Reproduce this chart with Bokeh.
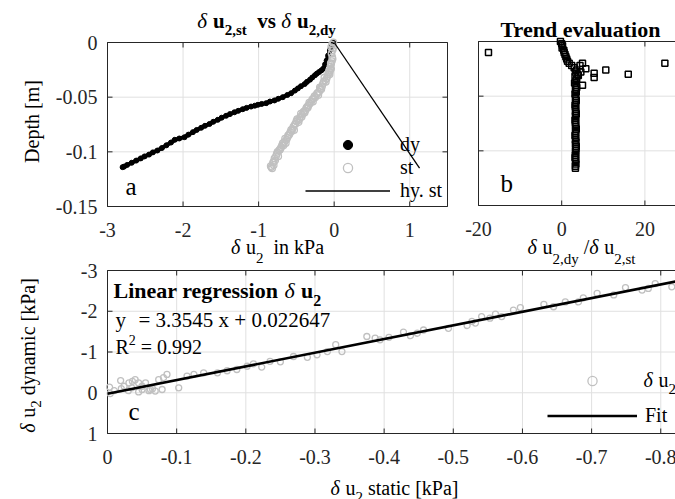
import math
from bokeh.plotting import figure
from bokeh.models import Range1d, Label, Legend, LegendItem
from bokeh.embed import file_html
from bokeh.resources import INLINE

FONT = "Liberation Serif"
AX = "#262626"
GRID = "#e0e0e0"
GREY = "#c0c0c0"
W, H = 675, 499

# ---------------- data ----------------
a_xticks = [-3, -2, -1, 0, 1]
a_yticks = [-0.15, -0.1, -0.05, 0]
b_xticks = [-20, 0, 20]
c_xticks = [0, -0.1, -0.2, -0.3, -0.4, -0.5, -0.6, -0.7, -0.8]
c_yticks = [1, 0, -1, -2, -3]

# panel a : dynamic pore pressure change vs depth
dy_u = [-0.01, -0.03, -0.056, -0.08, -0.10, -0.12, -0.145, -0.17, -0.20, -0.23, -0.255, -0.29,
        -0.32, -0.36, -0.39, -0.44, -0.48, -0.52, -0.57, -0.62, -0.68, -0.74, -0.79, -0.85,
        -0.90, -0.96, -1.01, -1.05, -1.10, -1.16, -1.21, -1.27, -1.32, -1.38, -1.43, -1.49,
        -1.54, -1.60, -1.65, -1.71, -1.76, -1.82, -1.87, -1.93, -1.98, -2.05, -2.11, -2.16,
        -2.22, -2.28, -2.34, -2.40, -2.45, -2.51, -2.56, -2.62, -2.68, -2.74, -2.80, -2.78]
dy_depth = [0.000, -0.003, -0.007, -0.012, -0.0165, -0.020, -0.024, -0.0255, -0.027, -0.0285, -0.030, -0.032,
            -0.034, -0.036, -0.038, -0.040, -0.042, -0.044, -0.0464, -0.048, -0.050, -0.0515, -0.053, -0.054,
            -0.0555, -0.0562, -0.057, -0.0578, -0.0586, -0.0598, -0.061, -0.0625, -0.0638, -0.0655, -0.067, -0.0688,
            -0.0707, -0.0725, -0.0745, -0.0762, -0.078, -0.080, -0.082, -0.0843, -0.0866, -0.0878, -0.089, -0.0915,
            -0.094, -0.0965, -0.0988, -0.1005, -0.1025, -0.1042, -0.106, -0.108, -0.110, -0.112, -0.114, -0.1135]
# panel a : static pore pressure change vs depth
st_u = [-0.01, -0.03, -0.04, -0.02, -0.035, -0.025, -0.03, -0.04, -0.05, -0.04, -0.06, -0.09,
        -0.08, -0.12, -0.10, -0.15, -0.18, -0.20, -0.23, -0.25, -0.27, -0.30, -0.32, -0.34,
        -0.36, -0.38, -0.40, -0.42, -0.45, -0.48, -0.50, -0.52, -0.55, -0.57, -0.59, -0.62,
        -0.60, -0.66, -0.68, -0.70, -0.73, -0.71, -0.76, -0.79, -0.77, -0.81, -0.83, -0.80,
        -0.015, -0.05, -0.06, -0.11, -0.14, -0.21, -0.28, -0.35, -0.43, -0.47, -0.53, -0.64,
        -0.74, -0.82, -0.67, -0.56, -0.39, -0.17,
        -0.02, -0.045, -0.07, -0.13, -0.16, -0.19, -0.22, -0.26, -0.29, -0.33, -0.37, -0.41,
        -0.44, -0.46, -0.49, -0.51, -0.54, -0.58, -0.61, -0.63, -0.65, -0.69, -0.72, -0.75,
        -0.78, -0.80, -0.84]
st_depth = [0.000, -0.002, -0.0043, -0.007, -0.010, -0.0134, -0.017, -0.020, -0.022, -0.024, -0.027, -0.031,
            -0.029, -0.0348, -0.033, -0.038, -0.042, -0.045, -0.047, -0.050, -0.051, -0.054, -0.056, -0.0576,
            -0.059, -0.062, -0.063, -0.066, -0.068, -0.0714, -0.072, -0.075, -0.079, -0.080, -0.0835, -0.087,
            -0.085, -0.091, -0.092, -0.0957, -0.099, -0.097, -0.102, -0.106, -0.104, -0.110, -0.114, -0.112,
            -0.005, -0.025, -0.029, -0.036, -0.036, -0.048, -0.054, -0.060, -0.068, -0.073, -0.080, -0.092,
            -0.104, -0.115, -0.094, -0.081, -0.064, -0.043,
            -0.015, -0.019, -0.026, -0.032, -0.040, -0.041, -0.046, -0.049, -0.052, -0.055, -0.060, -0.064,
            -0.065, -0.070, -0.070, -0.074, -0.077, -0.082, -0.085, -0.089, -0.088, -0.094, -0.098, -0.100,
            -0.108, -0.109, -0.113]
# hydrostatic line
hy_u = [0.0, 1.13]
hy_depth = [0.0, -0.115]

# panel b : ratio dy/st vs depth
b_ratio = [-0.3, 0.0, 0.2, 0.1, 0.5, 0.6, 0.8, 1.0, 1.2, 1.4, 1.8, 2.4, 3.0, 3.6, 3.3, 3.9, 3.2, 3.6,
           3.4, 3.1, 5.0, 5.8, 4.6, 7.8, 7.8, 10.6, 16.0, 24.8, -17.6, 5.0, 4.4, 4.0,
           3.4, 3.6, 3.3, 3.5, 3.2, 3.4, 3.3, 3.5, 3.4, 3.2, 3.3, 3.4, 3.3, 3.5, 3.3, 3.4,
           3.2, 3.3, 3.4, 3.3, 3.5, 3.4, 3.3, 3.2, 3.4, 3.3, 3.4, 3.3, 3.5, 3.4, 3.3, 3.4,
           3.3, 3.2, 3.4, 3.3, 3.4, 3.3, 3.3]
b_depth = [0.000, -0.002, -0.004, -0.006, -0.008, -0.010, -0.012, -0.014, -0.016, -0.018, -0.020, -0.022,
           -0.024, -0.026, -0.028, -0.030, -0.032, -0.034, -0.036, -0.038, -0.020, -0.025, -0.028, -0.029,
           -0.033, -0.026, -0.030, -0.020, -0.010, -0.040, -0.022, -0.031,
           -0.040, -0.042, -0.044, -0.046, -0.048, -0.050, -0.052, -0.054, -0.056, -0.058, -0.060, -0.062,
           -0.064, -0.066, -0.068, -0.070, -0.072, -0.074, -0.076, -0.078, -0.080, -0.082, -0.084, -0.086,
           -0.088, -0.090, -0.092, -0.094, -0.096, -0.098, -0.100, -0.102, -0.104, -0.106, -0.108, -0.110,
           -0.112, -0.114, -0.116]

# panel c : static vs dynamic
c_st = [-0.003, -0.004, -0.019, -0.024, -0.031, -0.036, -0.040, -0.045, -0.050, -0.055, -0.062, -0.069,
        -0.074, -0.079, -0.081, -0.086, -0.103, -0.115, -0.125, -0.139, -0.159, -0.173, -0.187, -0.202,
        -0.211, -0.223, -0.235, -0.250, -0.269, -0.289, -0.303, -0.318, -0.330, -0.339, -0.375, -0.387,
        -0.394, -0.407, -0.428, -0.438, -0.448, -0.457, -0.493, -0.520, -0.527, -0.532, -0.541, -0.553,
        -0.561, -0.570, -0.587, -0.597, -0.631, -0.645, -0.662, -0.681, -0.688, -0.708, -0.732, -0.749,
        -0.773, -0.782, -0.792, -0.816, -0.010, -0.030, -0.045, -0.060, -0.065, -0.020, -0.050, -0.035]
c_dy = [-0.14, 0.02, -0.30, -0.16, -0.24, -0.28, -0.32, -0.24, -0.16, -0.24, -0.08, -0.04,
        -0.32, -0.08, -0.37, -0.45, -0.12, -0.41, -0.45, -0.49, -0.49, -0.54, -0.57, -0.65,
        -0.71, -0.63, -0.77, -0.76, -0.89, -0.87, -0.93, -1.01, -1.18, -1.01, -1.38, -1.34,
        -1.30, -1.36, -1.49, -1.40, -1.46, -1.54, -1.58, -1.65, -1.75, -1.71, -1.87, -1.83,
        -1.93, -1.87, -2.03, -2.09, -2.17, -2.11, -2.23, -2.23, -2.33, -2.44, -2.40, -2.58,
        -2.52, -2.56, -2.68, -2.60, -0.05, -0.05, -0.02, -0.05, -0.10, -0.10, -0.08, -0.12]
fit_x = [0.0, -0.83]
fit_y = [0.023, -2.76]

# ---------------- layout (pixel boxes: left, right, top, bottom) ----------------
BOX_A = (107, 447, 42, 206)
BOX_B = (478, 686, 41, 205)
BOX_C = (107, 681, 270, 433)
LIM_A = ((-3, 1.5), (0, -0.15))      # (x left, x right), (y top, y bottom)
LIM_B = ((-20, 30), (0, -0.15))
LIM_C = ((0, -0.83), (-3, 1))


def x_range_for(box, lim):
    L, R = box[0], box[1]
    vl, vr = lim
    k = (vr - vl) / (R - L)
    return Range1d(vl - L * k, vl + (W - L) * k)


def y_range_for(box, lim):
    T, Bt = box[2], box[3]
    vt, vb = lim
    k = (vb - vt) / (Bt - T)
    return Range1d(vt + (H - T) * k, vt - T * k)


p = figure(width=W, height=H, x_range=Range1d(0, W), y_range=Range1d(H, 0),
           x_axis_type=None, y_axis_type=None, min_border=0,
           output_backend="svg", toolbar_location=None,
           background_fill_color="white", border_fill_color="white")
p.outline_line_color = None
p.extra_x_ranges = {"ax": x_range_for(BOX_A, LIM_A[0]), "bx": x_range_for(BOX_B, LIM_B[0]),
                    "cx": x_range_for(BOX_C, LIM_C[0])}
p.extra_y_ranges = {"ay": y_range_for(BOX_A, LIM_A[1]), "by": y_range_for(BOX_B, LIM_B[1]),
                    "cy": y_range_for(BOX_C, LIM_C[1])}

# ---------------- text helpers ----------------
W_REG = {' ': .25, ',': .25, '.': .25, '/': .278, '=': .564, '+': .564, '-': .333, '[': .333, ']': .333,
         'a': .444, 'c': .444, 'd': .5, 'e': .444, 'h': .5, 'i': .278, 'k': .5, 'm': .778, 'n': .5,
         'p': .5, 's': .389, 't': .278, 'u': .5, 'v': .5, 'x': .5, 'y': .5, 'D': .722, 'P': .556,
         'R': .667, 'F': .556, 'δ': .5}
W_BOLD = {' ': .25, ',': .25, 'u': .556, 's': .389, 't': .333, 'v': .5, 'd': .556, 'y': .5, 'L': .667,
          'i': .278, 'n': .556, 'e': .444, 'a': .5, 'r': .444, 'g': .5, 'o': .5, 'T': .667, 'l': .278}
for _d in '0123456789':
    W_REG[_d] = .5
    W_BOLD[_d] = .5

BASE_K = 0.3   # correction between requested and drawn alphabetic baseline


def tw(s, size, style):
    table = W_BOLD if style == "bold" else W_REG
    return sum(table.get(ch, 0.5) for ch in s) * size


def label(x, y, text, size=20, style="normal", align="left", baseline="alphabetic", angle=0.0,
          color="black", xr="default", yr="default"):
    p.add_layout(Label(x=x, y=y, text=text, angle=angle, x_range_name=xr, y_range_name=yr,
                       text_font=FONT, text_font_size=f"{size}px", text_font_style=style,
                       text_color=color, text_baseline=baseline, text_align=align))


def put(X, Y, parts, align="left", vertical=False):
    widths = [tw(t, sz, st) for t, sz, st, sh in parts]
    total = sum(widths)
    if not vertical:
        start = X - total / 2 if align == "center" else X
    else:
        start = Y + total / 2 if align == "center" else Y
    adv = 0.0
    for (t, sz, st, sh), w in zip(parts, widths):
        lead = tw(t[:len(t) - len(t.lstrip())], sz, st)
        s = t.strip()
        if s:
            off = sh - BASE_K * sz
            if not vertical:
                label(start + adv + lead, Y + off, s, sz, st)
            else:
                label(X + off, start - adv - lead, s, sz, st, angle=math.pi / 2)
        adv += w


def fmt(v):
    return f"{v:g}"


def axes(box, xr, yr, xticks, yticks, xlabels=True, ylabels=True, right=False):
    L, R, T, Bt = box
    nx, ny = len(xticks), len(yticks)
    # grid
    p.segment(x0=xticks, x1=xticks, y0=[T] * nx, y1=[Bt] * nx, x_range_name=xr,
              line_color=GRID, line_width=1)
    p.segment(x0=[L] * ny, x1=[R] * ny, y0=yticks, y1=yticks, y_range_name=yr,
              line_color=GRID, line_width=1)
    # frame
    p.quad(left=[L], right=[R], top=[T], bottom=[Bt], fill_color=None, line_color=AX, line_width=1)
    # ticks (inside)
    p.segment(x0=xticks, x1=xticks, y0=[Bt] * nx, y1=[Bt - 5] * nx, x_range_name=xr, line_color=AX)
    p.segment(x0=xticks, x1=xticks, y0=[T] * nx, y1=[T + 5] * nx, x_range_name=xr, line_color=AX)
    p.segment(x0=[L] * ny, x1=[L + 5] * ny, y0=yticks, y1=yticks, y_range_name=yr, line_color=AX)
    if right:
        p.segment(x0=[R] * ny, x1=[R - 5] * ny, y0=yticks, y1=yticks, y_range_name=yr, line_color=AX)
    if xlabels:
        for v in xticks:
            label(v, Bt + 23, fmt(v), 20, align="center", baseline="middle", color=AX, xr=xr)
    if ylabels:
        for v in yticks:
            label(L - 10, v, fmt(v), 20, align="right", baseline="middle", color=AX, yr=yr)


# ---------------- panel a ----------------
axes(BOX_A, "ax", "ay", a_xticks, a_yticks, right=True)
p.line(dy_u, dy_depth, line_color="black", line_width=4, x_range_name="ax", y_range_name="ay")
r_dy = p.scatter(dy_u, dy_depth, marker="circle", size=5, fill_color="black", line_color="black",
                 x_range_name="ax", y_range_name="ay")
r_st = p.scatter(st_u, st_depth, marker="circle", size=6.5, fill_color=None, line_color=GREY, line_width=1.3,
                 x_range_name="ax", y_range_name="ay")
r_hy = p.line(hy_u, hy_depth, line_color="black", line_width=1.3, x_range_name="ax", y_range_name="ay")

leg_a = Legend(items=[LegendItem(label="dy", renderers=[r_dy]),
                      LegendItem(label="st", renderers=[r_st]),
                      LegendItem(label="hy. st", renderers=[r_hy])],
               location=(305, H - 202), glyph_width=85, glyph_height=23, label_height=23,
               label_standoff=10, spacing=0, padding=0, margin=0,
               border_line_alpha=0, background_fill_alpha=0,
               label_text_font=FONT, label_text_font_size="20px", label_text_color="black")
p.add_layout(leg_a)

put(266, 27, [("δ", 21, "italic", 0), (" u", 21, "bold", 0), ("2,st", 15, "bold", 7),
              ("  vs ", 21, "bold", 0), ("δ", 21, "italic", 0), (" u", 21, "bold", 0),
              ("2,dy", 15, "bold", 7)], align="center")
put(277, 252, [("δ", 20, "italic", 0), (" u", 20, "normal", 0), ("2", 15, "normal", 10),
               ("  in kPa", 20, "normal", 0)], align="center")
put(37, 121, [("Depth [m]", 20, "normal", 0)], align="center", vertical=True)
put(125, 193, [("a", 25, "normal", 0)])

# ---------------- panel b ----------------
axes(BOX_B, "bx", "by", b_xticks, a_yticks, ylabels=False)
p.scatter(b_ratio, b_depth, marker="square", size=6, fill_color=None, line_color="black", line_width=1.5,
          x_range_name="bx", y_range_name="by")
put(581, 36, [("Trend evaluation", 22, "bold", 0)], align="center")
put(581, 252, [("δ", 20, "italic", 0), (" u", 20, "normal", 0), ("2,dy", 15, "normal", 11),
               (" /", 20, "normal", 0), ("δ", 20, "italic", 0), (" u", 20, "normal", 0),
               ("2,st", 15, "normal", 11)], align="center")
put(500, 190, [("b", 25, "normal", 0)])

# ---------------- panel c ----------------
axes(BOX_C, "cx", "cy", c_xticks, c_yticks)
r_c = p.scatter(c_st, c_dy, marker="circle", size=6, fill_color=None, line_color=GREY, line_width=1.3,
                x_range_name="cx", y_range_name="cy")
r_fit = p.line(fit_x, fit_y, line_color="black", line_width=2.6, x_range_name="cx", y_range_name="cy")

leg_c = Legend(items=[LegendItem(label=" ", renderers=[r_c]),
                      LegendItem(label="Fit", renderers=[r_fit])],
               location=(547, H - 427), glyph_width=90, glyph_height=23, label_height=23,
               label_standoff=8, spacing=12, padding=0, margin=0,
               border_line_alpha=0, background_fill_alpha=0,
               label_text_font=FONT, label_text_font_size="20px", label_text_color="black")
p.add_layout(leg_c)

put(394, 493, [("δ", 20, "italic", 0), (" u", 20, "normal", 0), ("2", 15, "normal", 8),
               (" static ", 20, "normal", 0), ("[kPa]", 20, "normal", 0)], align="center")
put(33, 355, [("δ", 20, "italic", 0), (" u", 20, "normal", 0), ("2", 15, "normal", 7),
              (" dynamic ", 20, "normal", 0), ("[kPa]", 20, "normal", 0)], align="center", vertical=True)
put(113, 297, [("Linear regression ", 22, "bold", 0), ("δ", 22, "italic", 0),
               (" u", 22, "bold", 0), ("2", 16, "bold", 8)])
put(115, 326, [("y", 21, "normal", 0)])
put(138, 326, [("= 3.3545 x + 0.022647", 21, "normal", 0)])
put(115, 352, [("R", 20, "normal", 0), ("2", 14, "normal", -8), (" = 0.992", 20, "normal", 0)])
put(128, 418, [("c", 25, "normal", 0)])
put(643, 385, [("δ", 20, "italic", 0), (" u", 20, "normal", 0), ("2,dy", 15, "normal", 8),
               (" vs ", 20, "normal", 0), ("δ", 20, "italic", 0), (" u", 20, "normal", 0),
               ("2,st", 15, "normal", 8)])

open("out.html", "w").write(file_html(p, INLINE))
